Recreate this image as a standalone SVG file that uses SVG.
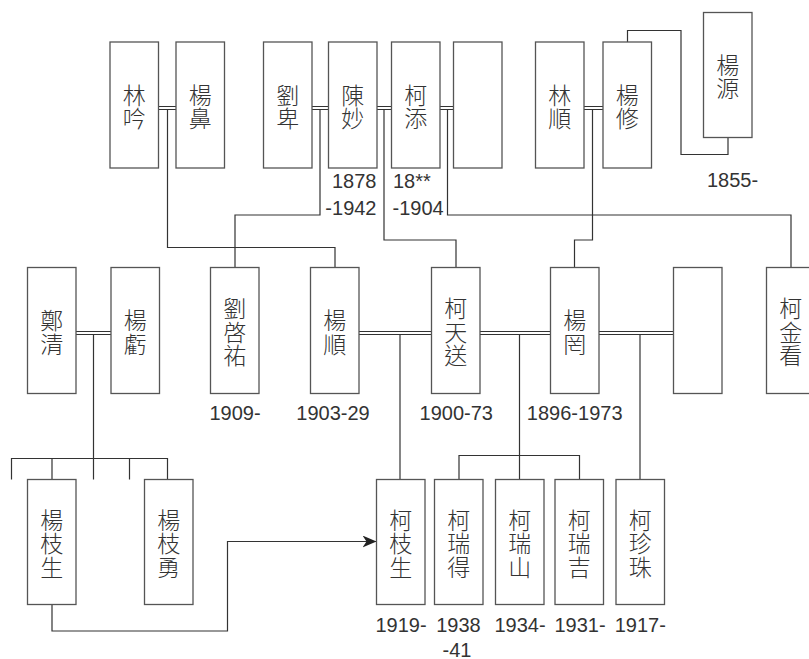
<svg xmlns="http://www.w3.org/2000/svg" width="809" height="659" viewBox="0 0 809 659">
<defs>
<style>
.box{fill:#fff;stroke:#555;stroke-width:1.3}
.ln{fill:none;stroke:#333;stroke-width:1.2}
.cj{font-family:"Noto Sans CJK TC","Noto Sans CJK SC",sans-serif;font-size:23px;font-weight:300;fill:#333;text-anchor:middle;dominant-baseline:central}
.yr{font-family:"Liberation Sans",Arial,sans-serif;font-size:20px;fill:#333;text-anchor:middle}
</style>
<marker id="ah" viewBox="0 0 14 12" refX="14" refY="6" markerWidth="14" markerHeight="12" markerUnits="userSpaceOnUse" orient="auto">
<path d="M0,0 L14,6 L0,12 L4,6 Z" fill="#222"/>
</marker>
</defs>
<rect width="809" height="659" fill="#fff"/>

<g id="connectors">
<path class="ln" d="M158.5,106.5H176M158.5,109.5H176"/>
<path class="ln" d="M312,106.5H328.5M312,109.5H328.5"/>
<path class="ln" d="M377,106.5H391.5M377,109.5H391.5"/>
<path class="ln" d="M440,106.5H453.5M440,109.5H453.5"/>
<path class="ln" d="M584,106.5H603M584,109.5H603"/>
<path class="ln" d="M167.5,109.5V247.5H335V267.5"/>
<path class="ln" d="M320,109.5V215H235V267.5"/>
<path class="ln" d="M384,109.5V240H456V267.5"/>
<path class="ln" d="M447.5,109.5V215H791V267.5"/>
<path class="ln" d="M592.5,109.5V240H574.5V267.5"/>
<path class="ln" d="M627.5,42V30.5H681V154.5H728V137.5"/>
<path class="ln" d="M76,331.5H111M76,334.5H111"/>
<path class="ln" d="M359,331.5H431.5M359,334.5H431.5"/>
<path class="ln" d="M480,331.5H550.5M480,334.5H550.5"/>
<path class="ln" d="M599,331.5H673.5M599,334.5H673.5"/>
<path class="ln" d="M93.5,334.5V458.5M11.5,479.5V458.5H167.5V479.5M52,458.5V479.5M93.5,458.5V479.5M129.5,458.5V479.5"/>
<path class="ln" d="M400,334.5V479.5"/>
<path class="ln" d="M519.5,334.5V455.5M459,479.5V455.5H579.5V479.5M519.5,455.5V479.5"/>
<path class="ln" d="M640,334.5V479.5"/>
<path class="ln" d="M52,604.5V631H227.5V541.5H376.5" marker-end="url(#ah)"/>
</g>

<g id="n-linyin"><rect class="box" x="110" y="42" width="48.5" height="126"/><text class="cj"><tspan x="134.25" y="93.5">林</tspan><tspan x="134.25" y="117">吟</tspan></text></g>
<g id="n-yangbi"><rect class="box" x="176" y="42" width="48.5" height="126"/><text class="cj"><tspan x="200.25" y="93.5">楊</tspan><tspan x="200.25" y="117">鼻</tspan></text></g>
<g id="n-liubei"><rect class="box" x="263.5" y="42" width="48.5" height="126"/><text class="cj"><tspan x="287.75" y="93.5">劉</tspan><tspan x="287.75" y="117">卑</tspan></text></g>
<g id="n-chenmiao"><rect class="box" x="328.5" y="42" width="48.5" height="126"/><text class="cj"><tspan x="352.75" y="93.5">陳</tspan><tspan x="352.75" y="117">妙</tspan></text>
<text class="yr" style="text-anchor:end" x="376.5" y="187.5">1878</text><text class="yr" style="text-anchor:end" x="376.5" y="214.5">-1942</text></g>
<g id="n-ketian"><rect class="box" x="391.5" y="42" width="48.5" height="126"/><text class="cj"><tspan x="415.75" y="93.5">柯</tspan><tspan x="415.75" y="117">添</tspan></text>
<text class="yr" style="text-anchor:start" x="393" y="187.5">18**</text><text class="yr" style="text-anchor:start" x="392.5" y="214.5">-1904</text></g>
<g id="n-empty1"><rect class="box" x="453.5" y="42" width="48.5" height="126"/></g>
<g id="n-linshun"><rect class="box" x="535.5" y="42" width="48.5" height="126"/><text class="cj"><tspan x="559.75" y="93.5">林</tspan><tspan x="559.75" y="117">順</tspan></text></g>
<g id="n-yangxiu"><rect class="box" x="603" y="42" width="48.5" height="126"/><text class="cj"><tspan x="627.25" y="93.5">楊</tspan><tspan x="627.25" y="117">修</tspan></text></g>
<g id="n-yangyuan"><rect class="box" x="703.5" y="12.5" width="48.5" height="125"/><text class="cj"><tspan x="727.75" y="63.5">楊</tspan><tspan x="727.75" y="87">源</tspan></text>
<text class="yr" x="732.5" y="187">1855-</text></g>

<g id="n-zhengqing"><rect class="box" x="27.5" y="267.5" width="48.5" height="126"/><text class="cj"><tspan x="51.75" y="319">鄭</tspan><tspan x="51.75" y="342.5">清</tspan></text></g>
<g id="n-yangkui"><rect class="box" x="111" y="267.5" width="48.5" height="126"/><text class="cj"><tspan x="135.25" y="319">楊</tspan><tspan x="135.25" y="342.5">虧</tspan></text></g>
<g id="n-liuqiyou"><rect class="box" x="210.5" y="267.5" width="48.5" height="126"/><text class="cj"><tspan x="234.75" y="307">劉</tspan><tspan x="234.75" y="330.5">啓</tspan><tspan x="234.75" y="354">祐</tspan></text>
<text class="yr" x="235" y="420">1909-</text></g>
<g id="n-yangshun"><rect class="box" x="310.5" y="267.5" width="48.5" height="126"/><text class="cj"><tspan x="334.75" y="319">楊</tspan><tspan x="334.75" y="342.5">順</tspan></text>
<text class="yr" x="333" y="420">1903-29</text></g>
<g id="n-ketiansong"><rect class="box" x="431.5" y="267.5" width="48.5" height="126"/><text class="cj"><tspan x="455.75" y="307">柯</tspan><tspan x="455.75" y="330.5">天</tspan><tspan x="455.75" y="354">送</tspan></text>
<text class="yr" x="456.3" y="420">1900-73</text></g>
<g id="n-yangwang"><rect class="box" x="550.5" y="267.5" width="48.5" height="126"/><text class="cj"><tspan x="574.75" y="319">楊</tspan><tspan x="574.75" y="342.5">罔</tspan></text>
<text class="yr" x="574.7" y="420">1896-1973</text></g>
<g id="n-empty2"><rect class="box" x="673.5" y="267.5" width="48.5" height="126"/></g>
<g id="n-kejinkan"><rect class="box" x="766.5" y="267.5" width="48.5" height="126"/><text class="cj"><tspan x="790.75" y="307">柯</tspan><tspan x="790.75" y="330.5">金</tspan><tspan x="790.75" y="354">看</tspan></text></g>

<g id="n-yangzhisheng"><rect class="box" x="27.5" y="479.5" width="48.5" height="125"/><text class="cj"><tspan x="51.75" y="518.5">楊</tspan><tspan x="51.75" y="542">枝</tspan><tspan x="51.75" y="565.5">生</tspan></text></g>
<g id="n-yangzhiyong"><rect class="box" x="144.5" y="479.5" width="48.5" height="125"/><text class="cj"><tspan x="168.75" y="518.5">楊</tspan><tspan x="168.75" y="542">枝</tspan><tspan x="168.75" y="565.5">勇</tspan></text></g>
<g id="n-kezhisheng"><rect class="box" x="376.5" y="479.5" width="48.5" height="125"/><text class="cj"><tspan x="400.75" y="518.5">柯</tspan><tspan x="400.75" y="542">枝</tspan><tspan x="400.75" y="565.5">生</tspan></text>
<text class="yr" x="401" y="631.5">1919-</text></g>
<g id="n-keruide"><rect class="box" x="434.5" y="479.5" width="48.5" height="125"/><text class="cj"><tspan x="458.75" y="518.5">柯</tspan><tspan x="458.75" y="542">瑞</tspan><tspan x="458.75" y="565.5">得</tspan></text>
<text class="yr" x="458.5" y="631.5">1938</text><text class="yr" x="457" y="656.5">-41</text></g>
<g id="n-keruishan"><rect class="box" x="495.5" y="479.5" width="48.5" height="125"/><text class="cj"><tspan x="519.75" y="518.5">柯</tspan><tspan x="519.75" y="542">瑞</tspan><tspan x="519.75" y="565.5">山</tspan></text>
<text class="yr" x="520" y="631.5">1934-</text></g>
<g id="n-keruiji"><rect class="box" x="555" y="479.5" width="48.5" height="125"/><text class="cj"><tspan x="579.25" y="518.5">柯</tspan><tspan x="579.25" y="542">瑞</tspan><tspan x="579.25" y="565.5">吉</tspan></text>
<text class="yr" x="580" y="631.5">1931-</text></g>
<g id="n-kezhenzhu"><rect class="box" x="616" y="479.5" width="48.5" height="125"/><text class="cj"><tspan x="640.25" y="518.5">柯</tspan><tspan x="640.25" y="542">珍</tspan><tspan x="640.25" y="565.5">珠</tspan></text>
<text class="yr" x="640.3" y="631.5">1917-</text></g>
</svg>
